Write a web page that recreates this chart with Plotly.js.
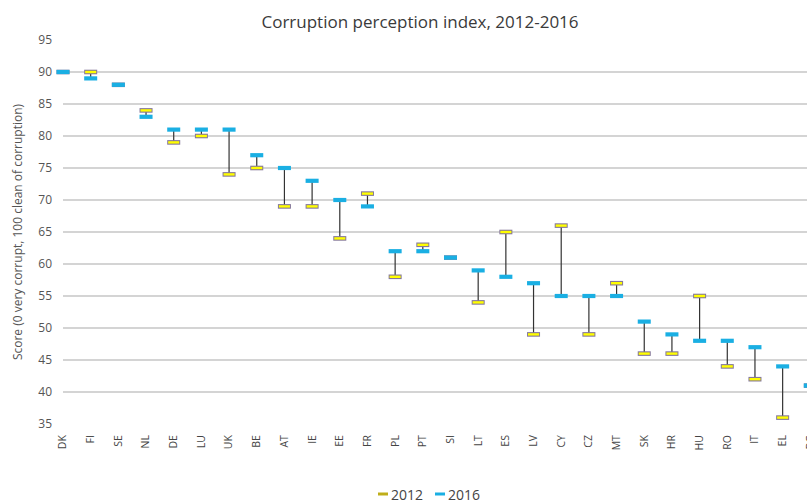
<!DOCTYPE html>
<html>
<head>
<meta charset="utf-8">
<script src="https://cdn.plot.ly/plotly-3.0.1.min.js"></script>
<style>
html,body{margin:0;padding:0;overflow:hidden;background:#fff;}
#chart{width:840px;height:504px;}
</style>
</head>
<body>
<div id="chart"></div>
<script>
var countries = ["DK","FI","SE","NL","DE","LU","UK","BE","AT","IE","EE","FR","PL","PT","SI","LT","ES","LV","CY","CZ","MT","SK","HR","HU","RO","IT","EL","BG"];
var score2012 = [90,90,88,84,79,80,74,75,69,69,64,71,58,63,61,54,65,49,66,49,57,46,46,55,44,42,36,41];
var score2016 = [90,89,88,83,81,81,81,77,75,73,70,69,62,62,61,59,58,57,55,55,55,51,49,48,48,47,44,41];
var yTicks = [35,40,45,50,55,60,65,70,75,80,85,90,95];
var seriesNames = ["2012","2016"];
var seriesColors = ["#bfae1a","#1aafe3"];

var cx = [], cy = [];
countries.forEach(function(c, i){
  cx.push(c, c, null);
  cy.push(score2012[i], score2016[i], null);
});

var traces = [
  {x: cx, y: cy, mode: 'lines', type: 'scatter', line: {color: '#333333', width: 1.2},
   hoverinfo: 'skip', showlegend: false, cliponaxis: false},
  {x: countries, y: score2012, mode: 'markers', type: 'scatter', showlegend: false,
   marker: {symbol: 'line-ew', size: 9.3, color: '#857899', line: {width: 4.6, color: '#857899'}}, cliponaxis: false},
  {x: countries, y: score2012, mode: 'markers', type: 'scatter', showlegend: false,
   marker: {symbol: 'line-ew', size: 7.9, color: '#ffff00', line: {width: 2.4, color: '#ffff00'}}, cliponaxis: false},
  {x: countries, y: score2016, mode: 'markers', type: 'scatter', showlegend: false,
   marker: {symbol: 'line-ew', size: 9.3, color: '#1aafe3', line: {width: 4.2, color: '#1aafe3'}}, cliponaxis: false}
];

// compact legend built from the series names (pixel layout -> paper coords)
var plotL = 63, plotW = 775, plotT = 40, plotH = 384;
var legSymX = [378, 435];
var legY = (plotT + plotH - 494) / plotH;
var shapes = seriesNames.map(function(n, i){
  return {type: 'line', xref: 'paper', yref: 'paper',
          x0: (legSymX[i] - plotL) / plotW, x1: (legSymX[i] + 10 - plotL) / plotW,
          y0: legY, y1: legY, line: {color: seriesColors[i], width: 3}};
});
var annotations = seriesNames.map(function(n, i){
  return {xref: 'paper', yref: 'paper', x: (legSymX[i] + 11 - plotL) / plotW, y: legY,
          xanchor: 'left', yanchor: 'middle', showarrow: false, text: n,
          font: {size: 14, color: '#444', family: 'Open Sans, sans-serif'}};
});

var layout = {
  width: 840, height: 504,
  margin: {l: 63, r: 2, t: 40, b: 80},
  paper_bgcolor: '#ffffff', plot_bgcolor: '#ffffff',
  font: {family: 'Open Sans, sans-serif', color: '#555555', size: 11},
  title: {text: 'Corruption perception index, 2012-2016', font: {size: 17, color: '#3a3a3a'},
          x: (420 - 63) / 775, xref: 'paper', xanchor: 'center', y: 0.968, yref: 'container'},
  xaxis: {type: 'category', range: [0, 28], tickangle: -90, showgrid: false, zeroline: false,
          showline: false, ticks: '', tickfont: {size: 10.5, color: '#444'}, ticklabelstandoff: 8,
          categoryorder: 'array', categoryarray: countries},
  yaxis: {range: [35, 95], tickvals: yTicks, showgrid: true, gridcolor: '#d4d4d4', gridwidth: 1.3,
          zeroline: false, showline: false, ticks: '', tickfont: {size: 12, color: '#555'},
          ticklabelstandoff: 10,
          title: {text: 'Score (0 very corrupt, 100 clean of corruption)', font: {size: 12, color: '#555'}, standoff: 13}},
  showlegend: false,
  shapes: shapes,
  annotations: annotations,
  hovermode: false
};

Plotly.newPlot('chart', traces, layout, {displayModeBar: false, staticPlot: true});
</script>
</body>
</html>
